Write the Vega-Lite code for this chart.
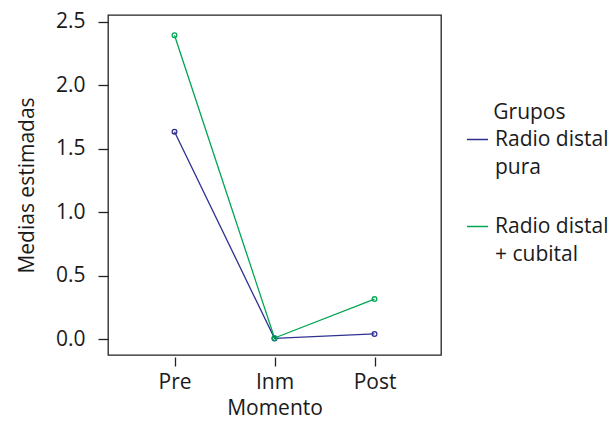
{
  "$schema": "https://vega.github.io/schema/vega-lite/v6.json",
  "width": 333,
  "height": 340,
  "autosize": {"type": "none"},
  "padding": {"left": 108, "top": 15, "right": 173, "bottom": 66},
  "background": "white",
  "config": {
    "font": "Open Sans",
    "view": {"stroke": "#222222", "strokeWidth": 1.3},
    "axis": {"labelFontSize": 21, "titleFontSize": 21, "labelColor": "#1a1a1a", "titleColor": "#1a1a1a", "titleFontWeight": "normal", "tickColor": "#222222", "tickWidth": 1.3, "grid": false, "domain": false},
    "legend": {"labelFontSize": 21, "titleFontSize": 21, "titleFontWeight": "normal", "labelColor": "#1a1a1a", "titleColor": "#1a1a1a"},
    "style": {"guide-label": {"lineHeight": 28.5}}
  },
  "data": {
    "values": [
      {"momento": "Pre", "grupo": "Radio distal pura", "media": 1.635},
      {"momento": "Inm", "grupo": "Radio distal pura", "media": 0.005},
      {"momento": "Post", "grupo": "Radio distal pura", "media": 0.04},
      {"momento": "Pre", "grupo": "Radio distal + cubital", "media": 2.395},
      {"momento": "Inm", "grupo": "Radio distal + cubital", "media": 0.008},
      {"momento": "Post", "grupo": "Radio distal + cubital", "media": 0.315}
    ]
  },
  "encoding": {
    "x": {
      "field": "momento", "type": "nominal",
      "sort": ["Pre", "Inm", "Post"],
      "scale": {"type": "point", "padding": 0.665},
      "axis": {"title": "Momento", "labelAngle": 0, "tickSize": 9, "offset": 2, "labelPadding": 5, "titlePadding": 5}
    },
    "y": {
      "field": "media", "type": "quantitative",
      "scale": {"domain": [-0.126, 2.555], "nice": false, "zero": false},
      "axis": {"title": "Medias estimadas", "values": [0, 0.5, 1, 1.5, 2, 2.5], "format": ".1f", "tickSize": 10, "labelPadding": 13, "titlePadding": 18}
    }
  },
  "layer": [
    {
      "mark": {"type": "line", "strokeWidth": 1.3},
      "encoding": {
        "color": {
          "field": "grupo", "type": "nominal",
          "sort": ["Radio distal pura", "Radio distal + cubital"],
          "scale": {"domain": ["Radio distal pura", "Radio distal + cubital"], "range": ["#2E3192", "#00A651"]},
          "legend": {
            "title": "\u200b\u00a0\u00a0\u00a0\u00a0\u00a0Grupos",
            "orient": "none",
            "legendX": 358,
            "legendY": 87,
            "symbolType": "stroke",
            "symbolSize": 441,
            "symbolStrokeWidth": 1.5,
            "labelOffset": 6,
            "rowPadding": 37,
            "padding": 0,
            "labelExpr": "datum.label == 'Radio distal pura' ? ['Radio distal', 'pura'] : ['Radio distal', '+ cubital']"
          }
        }
      }
    },
    {
      "mark": {"type": "point", "filled": false, "size": 22, "strokeWidth": 1.3, "opacity": 1},
      "encoding": {
        "stroke": {
          "field": "grupo", "type": "nominal",
          "scale": {"domain": ["Radio distal pura", "Radio distal + cubital"], "range": ["#2E3192", "#00A651"]},
          "legend": null
        }
      }
    }
  ]
}
